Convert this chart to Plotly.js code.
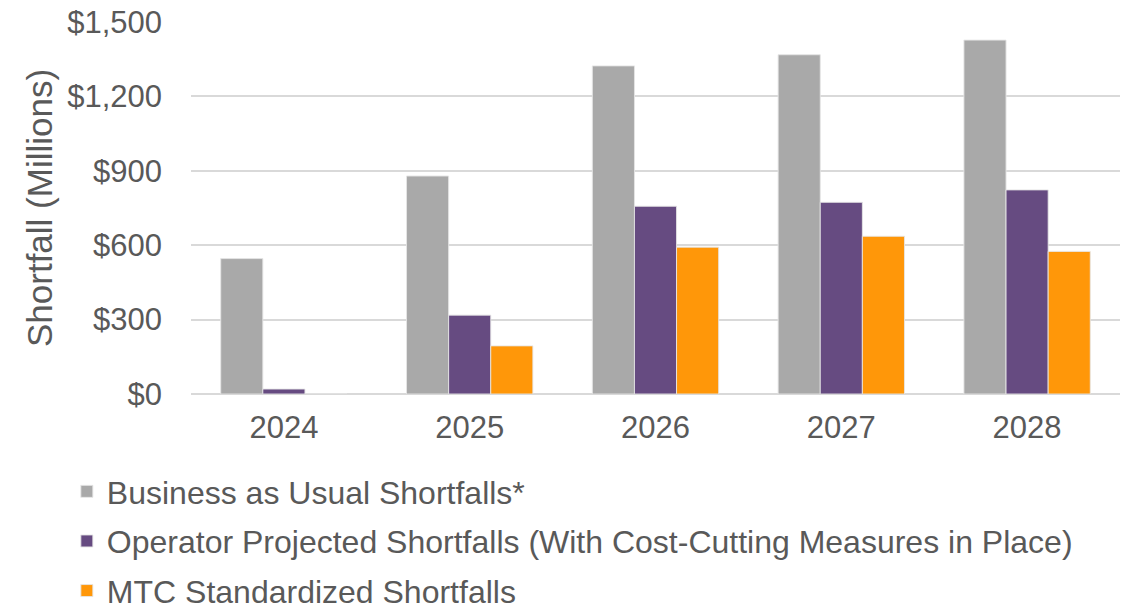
<!DOCTYPE html>
<html>
<head>
<meta charset="utf-8">
<script src="https://cdn.plot.ly/plotly-3.0.1.min.js"></script>
<style>html,body{margin:0;padding:0;background:#fff;}#chart{width:1133px;height:609px;}</style>
</head>
<body>
<div id="chart"></div>
<script>
const years = ['2024', '2025', '2026', '2027', '2028'];
const businessAsUsual = [546, 879, 1323, 1368, 1427];
const operatorProjected = [20, 318, 757, 773, 823];
const mtcStandardized = [0, 194, 592, 636, 575];
const tickValues = [0, 300, 600, 900, 1200, 1500];
const tickLabels = ['$0', '$300', '$600', '$900', '$1,200', '$1,500'];
const seriesNames = [
  'Business as Usual Shortfalls*',
  'Operator Projected Shortfalls (With Cost-Cutting Measures in Place)',
  'MTC Standardized Shortfalls'
];
const seriesColors = ['#A9A9A9', '#664B81', '#FF9709'];
const yTitle = 'Shortfall (Millions)';

const font = 'Arial, "Liberation Sans", sans-serif';
const textColor = '#595959';

const seriesValues = [businessAsUsual, operatorProjected, mtcStandardized];
const traces = seriesValues.map((vals, i) => ({
  type: 'bar',
  name: seriesNames[i],
  x: years,
  y: vals,
  legendgroup: 'g' + i,
  marker: {color: seriesColors[i], line: {color: 'rgba(230,230,230,0.9)', width: 1}},
  hoverinfo: 'none'
}));

const layout = {
  width: 1133,
  height: 609,
  margin: {l: 191, r: 13, t: 22, b: 215, autoexpand: false},
  paper_bgcolor: '#ffffff',
  plot_bgcolor: '#ffffff',
  font: {family: font, color: textColor, size: 31},
  barmode: 'group',
  bargap: 0.32,
  bargroupgap: 0,
  showlegend: true,
  legend: {
    orientation: 'v',
    xref: 'container', yref: 'container',
    x: 0.059, y: 0.238,
    xanchor: 'left', yanchor: 'top',
    font: {family: font, color: textColor, size: 32},
    tracegroupgap: 5,
    itemwidth: 30,
    bgcolor: 'rgba(0,0,0,0)'
  },
  xaxis: {
    type: 'category',
    showgrid: false,
    showline: false,
    ticks: '',
    tickangle: 0,
    tickfont: {family: font, color: textColor, size: 31},
    ticklabelstandoff: 12
  },
  yaxis: {
    range: [0, 1500],
    tickvals: tickValues,
    ticktext: tickLabels,
    showgrid: true,
    gridcolor: '#D9D9D9',
    gridwidth: 2,
    zeroline: true,
    zerolinecolor: '#D9D9D9',
    zerolinewidth: 2,
    showline: false,
    ticks: '',
    ticklabelstandoff: 28,
    tickfont: {family: font, color: textColor, size: 31}
  },
  annotations: [{
    text: yTitle,
    xref: 'paper', yref: 'paper',
    x: -0.1636, y: 0.5,
    xanchor: 'center', yanchor: 'middle',
    textangle: -90,
    showarrow: false,
    font: {family: font, color: textColor, size: 35}
  }]
};

Plotly.newPlot('chart', traces, layout, {displayModeBar: false, staticPlot: true});
</script>
</body>
</html>
